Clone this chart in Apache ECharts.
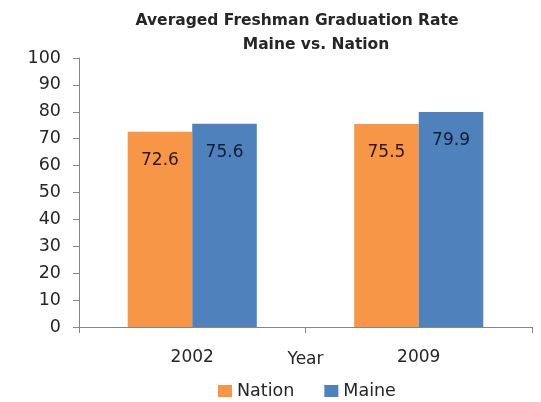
<!DOCTYPE html>
<html>
<head>
<meta charset="utf-8">
<script src="https://cdn.jsdelivr.net/npm/echarts@6/dist/echarts.min.js"></script>
<style>html,body{margin:0;padding:0;background:#fff}#c{width:541px;height:402px}</style>
</head>
<body>
<div id="c"></div>
<script>
const categories = ['2002', '2009'];
const nation = [72.6, 75.5];
const maine = [75.6, 79.9];
const yTicks = [0, 10, 20, 30, 40, 50, 60, 70, 80, 90, 100];
const titleLines = ['Averaged Freshman Graduation Rate', 'Maine vs. Nation'];

const FONT = 'DejaVu Sans';
const chart = echarts.init(document.getElementById('c'), null, {renderer: 'canvas'});
function labelCfg(color) {
  return {
    show: true, position: 'insideTop', distance: 20,
    color: color, fontFamily: FONT, fontSize: 17,
    formatter: p => p.value.toFixed(1)
  };
}
const titleStyle = {fontFamily: FONT, fontSize: 15.5, fontWeight: 'bold', color: '#262626'};
chart.setOption({
  animation: false,
  backgroundColor: '#fff',
  title: [
    {text: titleLines[0], left: 297, top: 13, padding: 0, textAlign: 'center', textStyle: titleStyle},
    {text: titleLines[1], left: 316, top: 37, padding: 0, textAlign: 'center', textStyle: titleStyle}
  ],
  legend: {
    top: 377, left: 213, itemWidth: 14, itemHeight: 12, itemGap: 30,
    icon: 'rect',
    textStyle: {fontFamily: FONT, fontSize: 17.5, color: '#262626'},
    data: ['Nation', 'Maine']
  },
  grid: {left: 79, right: 9, top: 58, bottom: 75, containLabel: false},
  xAxis: {
    type: 'category', data: categories,
    name: 'Year', nameLocation: 'middle', nameGap: 24, nameMoveOverlap: false,
    nameTextStyle: {fontFamily: FONT, fontSize: 17, color: '#262626'},
    axisLine: {lineStyle: {color: '#868686', width: 1}},
    axisTick: {show: true, length: 6, lineStyle: {color: '#868686'}},
    axisLabel: {fontFamily: FONT, fontSize: 17, color: '#262626', margin: 22}
  },
  yAxis: {
    type: 'value', min: 0, max: 100, interval: 10,
    axisLine: {show: true, lineStyle: {color: '#868686', width: 1}},
    axisTick: {show: true, length: 6, lineStyle: {color: '#868686'}},
    splitLine: {show: false},
    axisLabel: {fontFamily: FONT, fontSize: 17.5, color: '#262626', margin: 18,
      formatter: v => yTicks.includes(v) ? String(v) : ''}
  },
  series: [
    {name: 'Nation', type: 'bar', data: nation, barGap: '0%', barCategoryGap: '43%',
     itemStyle: {color: '#F79646'}, label: labelCfg('#2b1a0c')},
    {name: 'Maine', type: 'bar', data: maine, barGap: '0%', barCategoryGap: '43%',
     itemStyle: {color: '#4F81BD'}, label: labelCfg('#101d33')}
  ]
});
</script>
</body>
</html>
